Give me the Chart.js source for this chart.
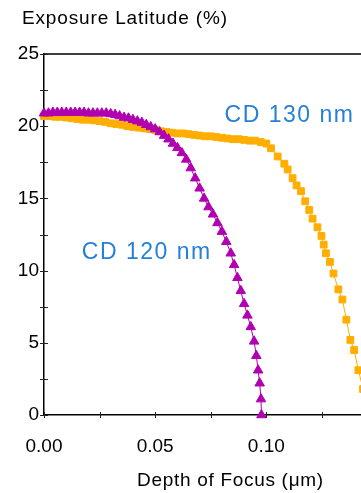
<!DOCTYPE html>
<html>
<head>
<meta charset="utf-8">
<script src="https://cdn.jsdelivr.net/npm/chart.js@4.4.1/dist/chart.umd.min.js"></script>
<style>
  html, body { margin: 0; padding: 0; background: #fff; overflow: hidden; width: 361px; height: 493px; }
  canvas { display: block; }
</style>
</head>
<body>
<canvas id="c" width="384" height="493"></canvas>
<script>
// ---- data ----
const cd120X = [0.000,0.002,0.004,0.006,0.008,0.010,0.012,0.014,0.016,0.018,0.020,0.022,0.024,0.026,0.028,0.030,0.032,0.034,0.036,0.038,0.040,0.042,0.044,0.046,0.048,0.050,0.052,0.054,0.056,0.058,0.060,0.062,0.064,0.066,0.068,0.070,0.072,0.074,0.076,0.078,0.080,0.082,0.084,0.0855,0.087,0.0885,0.090,0.0915,0.093,0.0945,0.0955,0.0963,0.0970,0.0976,0.0978];
const cd120Y = [20.9,20.9,20.95,20.95,20.95,20.95,20.95,20.95,20.95,20.95,20.9,20.9,20.9,20.9,20.9,20.85,20.8,20.7,20.6,20.55,20.45,20.35,20.25,20.1,19.95,19.8,19.6,19.35,19.1,18.8,18.5,18.15,17.7,17.1,16.4,15.7,15.0,14.4,13.9,13.3,12.7,12.0,11.2,10.4,9.5,8.6,7.7,6.9,6.1,5.1,4.1,3.1,2.2,1.1,0.0];

const cd130X = [0.000,0.0025,0.005,0.0075,0.010,0.0125,0.015,0.0175,0.020,0.0225,0.025,0.0275,0.030,0.0325,0.035,0.0375,0.040,0.0425,0.045,0.0475,0.050,0.0525,0.055,0.0575,0.060,0.0625,0.065,0.0675,0.070,0.0725,0.075,0.0775,0.080,0.0825,0.085,0.0875,0.090,0.0925,0.095,0.0975,0.100,0.1021,0.1051,0.1081,0.1096,0.1118,0.1136,0.1156,0.1175,0.1193,0.1208,0.1230,0.1248,0.1258,0.1268,0.1286,0.1302,0.1324,0.1342,0.1360,0.1378,0.1395,0.1414,0.1435,0.1450,0.1460];
const cd130Y = [20.7,20.7,20.65,20.65,20.6,20.55,20.5,20.45,20.45,20.4,20.35,20.3,20.2,20.15,20.1,20.0,19.95,19.9,19.85,19.8,19.75,19.65,19.6,19.55,19.5,19.5,19.45,19.4,19.35,19.3,19.3,19.25,19.2,19.15,19.1,19.1,19.05,19.0,19.0,18.9,18.8,18.47,17.9,17.4,17.0,16.4,15.9,15.5,14.8,14.2,13.6,13.0,12.4,11.8,11.2,10.6,9.8,8.7,8.0,6.6,5.2,4.5,3.1,1.8,0.6,0.0];

const xMajorTicks = [0, 0.05, 0.10];
const xMinorTicks = [0.025, 0.075, 0.125];
const yMajorTicks = [0, 5, 10, 15, 20, 25];
const yMinorTicks = [2.5, 7.5, 12.5, 17.5, 22.5];

const seriesNames = ['CD 120 nm', 'CD 130 nm'];
const yAxisTitle = 'Exposure Latitude (%)';
const xAxisTitle = 'Depth of Focus (\u03bcm)';

// ---- styles ----
const ORANGE = '#ffae00';
const PURPLE = '#b000b0';
const BLUE = '#2680d9';
const FONT = '"Liberation Sans", Arial, Helvetica, sans-serif';

const toPts = (xs, ys) => xs.map((x, i) => ({ x: x, y: ys[i] }));

const decor = {
  id: 'decor',
  afterDraw(chart) {
    const ctx = chart.ctx;
    const xs = chart.scales.x, ys = chart.scales.y;
    const a = chart.chartArea;
    ctx.save();
    ctx.strokeStyle = '#000';
    ctx.lineWidth = 1.5;
    ctx.beginPath();
    ctx.moveTo(a.left, a.top);
    ctx.lineTo(a.right, a.top);
    ctx.lineTo(a.right, a.bottom);
    ctx.stroke();
    ctx.lineWidth = 1;
    ctx.strokeStyle = '#222';
    ctx.beginPath();
    [...yMajorTicks, ...yMinorTicks].forEach(v => {
      const p = Math.round(ys.getPixelForValue(v)) + 0.5;
      ctx.moveTo(a.left - 4, p); ctx.lineTo(a.left + 4, p);
    });
    [...xMajorTicks, ...xMinorTicks].forEach(v => {
      const p = Math.round(xs.getPixelForValue(v)) + 0.5;
      ctx.moveTo(p, a.bottom - 3); ctx.lineTo(p, a.bottom + 3);
    });
    ctx.stroke();
    ctx.fillStyle = '#000';
    ctx.textBaseline = 'middle';
    ctx.textAlign = 'left';
    ctx.font = '19px ' + FONT;
    ctx.letterSpacing = '0.85px';
    ctx.fillText(yAxisTitle, 22, 19);
    ctx.letterSpacing = '0.7px';
    ctx.fillText(xAxisTitle, 137, 481);
    ctx.fillStyle = BLUE;
    ctx.font = '23px ' + FONT;
    ctx.letterSpacing = '1.5px';
    ctx.fillText(seriesNames[1], xs.getPixelForValue(0.0812), ys.getPixelForValue(20.75));
    ctx.fillText(seriesNames[0], xs.getPixelForValue(0.0170), ys.getPixelForValue(11.25));
    ctx.letterSpacing = '0px';
    ctx.restore();
  }
};

new Chart(document.getElementById('c'), {
  type: 'scatter',
  data: {
    datasets: [
      {
        label: seriesNames[0],
        data: toPts(cd120X, cd120Y),
        showLine: true,
        borderColor: PURPLE,
        backgroundColor: PURPLE,
        borderWidth: 1,
        pointStyle: 'triangle',
        pointRadius: 5.5,
        pointBorderWidth: 1,
        pointBorderColor: PURPLE,
        pointBackgroundColor: PURPLE,
        tension: 0,
        clip: false
      },
      {
        label: seriesNames[1],
        data: toPts(cd130X, cd130Y),
        showLine: true,
        borderColor: ORANGE,
        backgroundColor: ORANGE,
        borderWidth: 1,
        pointStyle: 'rect',
        pointRadius: 4.8,
        pointBorderWidth: 1,
        pointBorderColor: ORANGE,
        pointBackgroundColor: ORANGE,
        tension: 0,
        clip: false
      }
    ]
  },
  options: {
    responsive: false,
    animation: false,
    events: [],
    layout: { padding: { top: 54, right: 2, left: 0, bottom: 0 } },
    plugins: { legend: { display: false }, tooltip: { enabled: false }, title: { display: false } },
    scales: {
      x: {
        type: 'linear',
        min: 0, max: 0.15,
        border: { display: true, color: '#000', width: 1.5 },
        grid: { display: false, drawTicks: false },
        afterBuildTicks: s => { s.ticks = xMajorTicks.map(v => ({ value: v })); },
        afterFit: s => { s.height = 78; },
        ticks: {
          autoSkip: false,
          maxRotation: 0,
          padding: 20,
          color: '#000',
          font: { family: FONT, size: 19 },
          callback: v => Number(v).toFixed(2)
        }
      },
      y: {
        type: 'linear',
        min: 0, max: 25,
        border: { display: true, color: '#000', width: 1.5 },
        grid: { display: false, drawTicks: false },
        afterBuildTicks: s => { s.ticks = yMajorTicks.map(v => ({ value: v })); },
        afterFit: s => { s.width = 44; },
        ticks: {
          autoSkip: false,
          padding: 5,
          color: '#000',
          font: { family: FONT, size: 19 },
          callback: v => String(v)
        }
      }
    }
  },
  plugins: [decor]
});
</script>
</body>
</html>
